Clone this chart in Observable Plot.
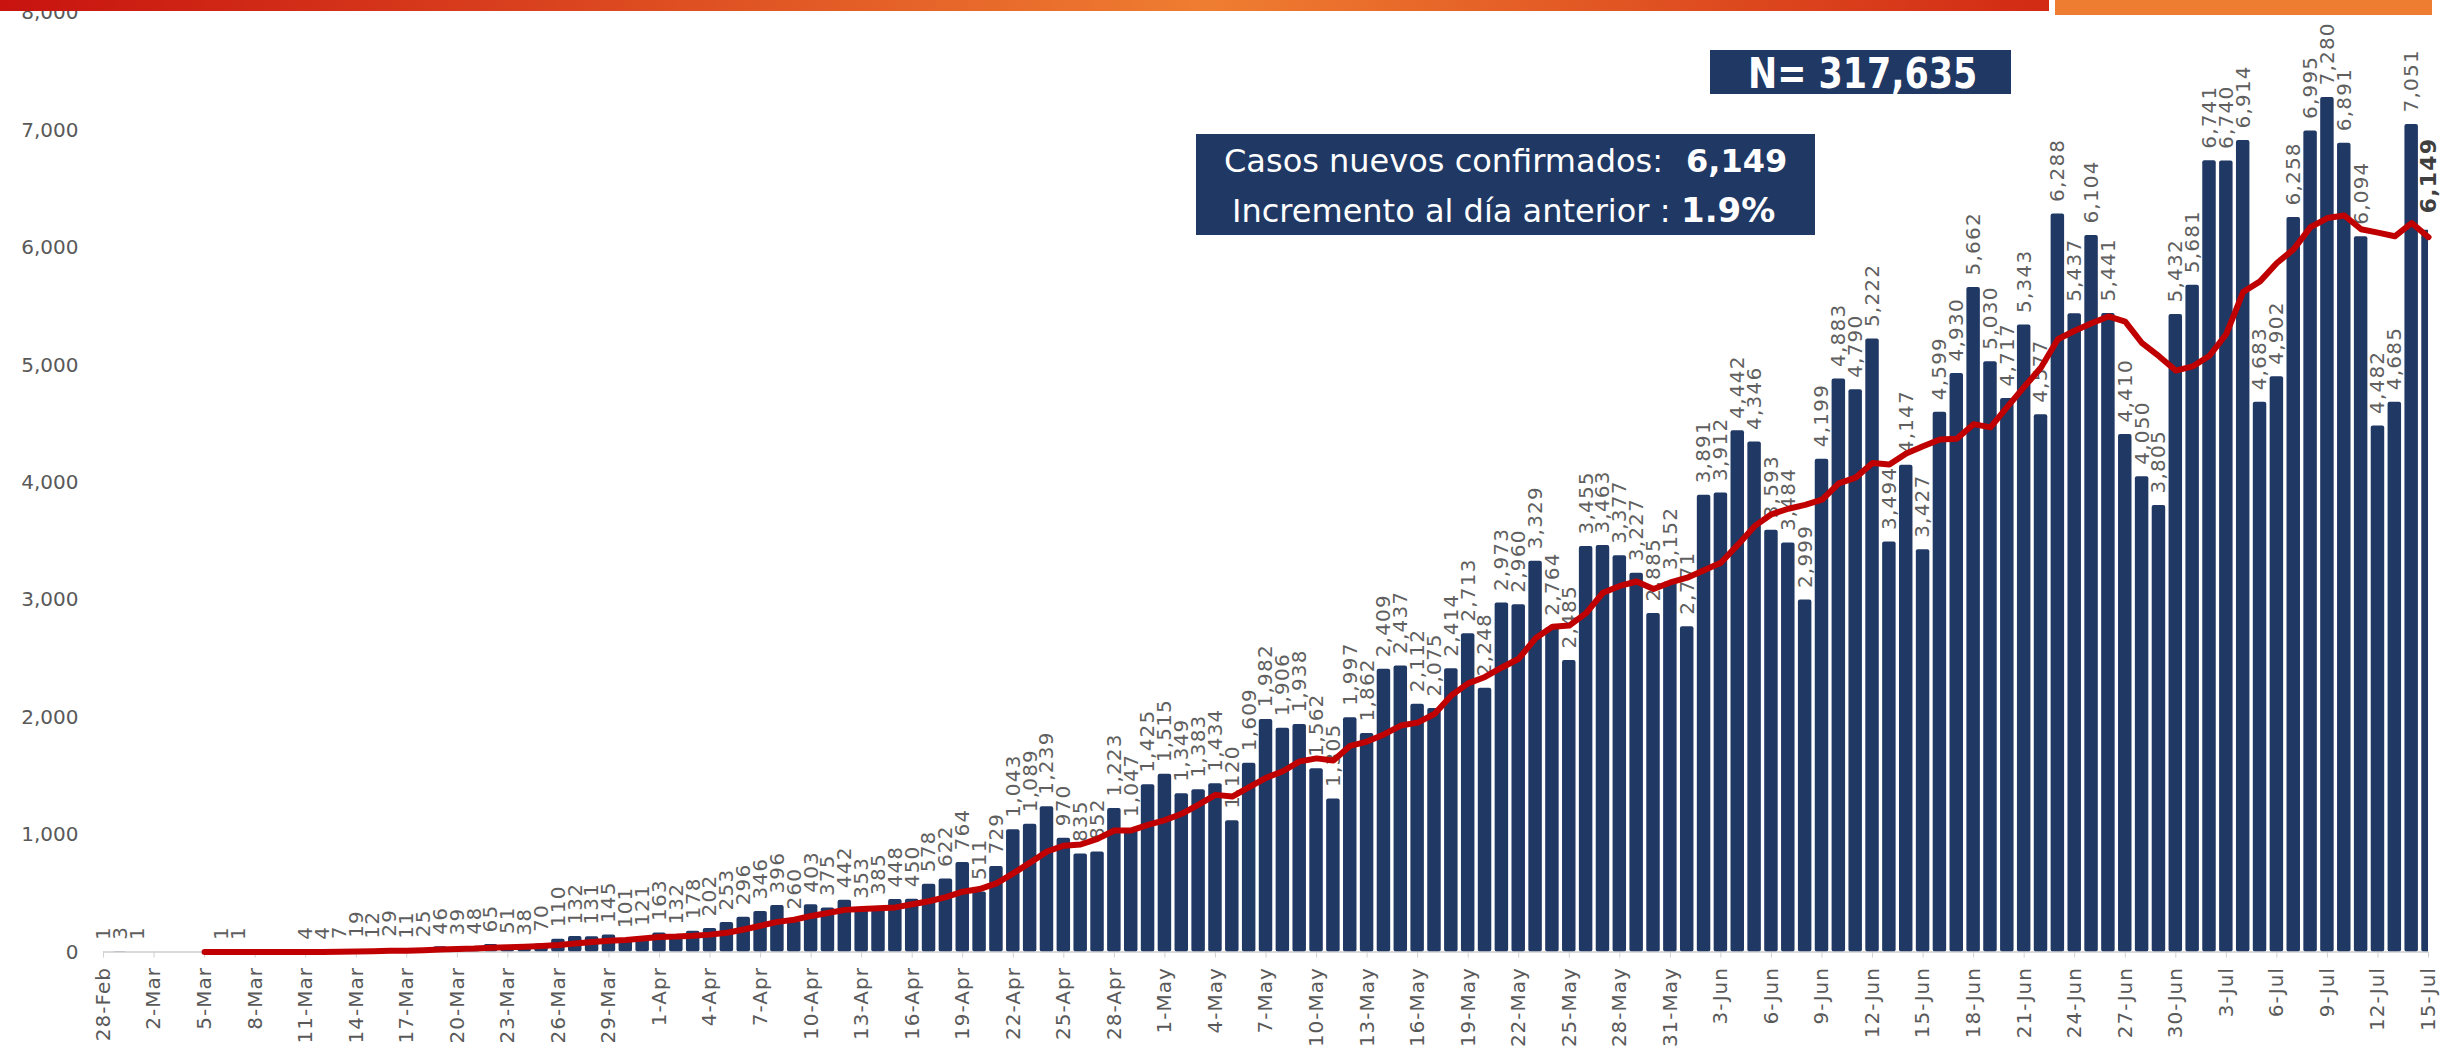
<!DOCTYPE html>
<html>
<head>
<meta charset="utf-8">
<script src="https://cdn.jsdelivr.net/npm/d3@7"></script>
<script src="https://cdn.jsdelivr.net/npm/@observablehq/plot@0.6"></script>
<style>
html,body{margin:0;padding:0;background:#fff;}
#wrap{position:relative;width:2458px;height:1055px;overflow:hidden;font-family:"DejaVu Sans",sans-serif;}
#chart{position:absolute;left:0;top:0;}
.deco{position:absolute;}
.box{position:absolute;background:#203864;}
.t{position:absolute;color:#fff;white-space:nowrap;font-family:"DejaVu Sans",sans-serif;}
.cov g[aria-label="x-axis tick label"]{letter-spacing:1px;}
.cov g[aria-label="text"]{letter-spacing:1.2px;}
</style>
</head>
<body>
<div id="wrap">
  <div id="chart"></div>
  <div class="deco" style="left:0;top:0;width:2049px;height:11px;background:linear-gradient(90deg,#c8130f 0%,#ef7d31 59%,#d22a14 100%);"></div>
  <div class="deco" style="left:2055px;top:0;width:377px;height:15px;background:#ef7d31;"></div>
  <div class="box" style="left:1710px;top:50px;width:301px;height:44px;"></div>
  <div class="t" id="ntext" style="left:1748px;top:53px;font-size:42px;line-height:42px;font-weight:bold;transform:scaleX(0.83);transform-origin:0 0;">N= 317,635</div>
  <div class="box" style="left:1196px;top:134px;width:619px;height:101px;"></div>
  <div class="t" style="left:1224px;top:145px;font-size:32px;line-height:32px;">Casos nuevos confirmados:</div>
  <div class="t" style="left:1686px;top:145px;font-size:32px;line-height:32px;font-weight:bold;">6,149</div>
  <div class="t" style="left:1232px;top:195px;font-size:32px;line-height:32px;">Incremento al día anterior :</div>
  <div class="t" style="left:1681px;top:193px;font-size:34px;line-height:34px;font-weight:bold;">1.9%</div>
</div>
<script>
// Categories (report dates)
const dates = [
  "28-Feb","29-Feb",
  "1-Mar","2-Mar","3-Mar","4-Mar","5-Mar","6-Mar","7-Mar","8-Mar","9-Mar","10-Mar",
  "11-Mar","12-Mar","13-Mar","14-Mar","15-Mar","16-Mar","17-Mar","18-Mar","19-Mar","20-Mar",
  "21-Mar","22-Mar","23-Mar","24-Mar","25-Mar","26-Mar","27-Mar","28-Mar","29-Mar","30-Mar","31-Mar",
  "1-Apr","2-Apr","3-Apr","4-Apr","5-Apr","6-Apr","7-Apr","8-Apr","9-Apr","10-Apr",
  "11-Apr","12-Apr","13-Apr","14-Apr","15-Apr","16-Apr","17-Apr","18-Apr","19-Apr","20-Apr",
  "21-Apr","22-Apr","23-Apr","24-Apr","25-Apr","26-Apr","27-Apr","28-Apr","29-Apr","30-Apr",
  "1-May","2-May","3-May","4-May","5-May","6-May","7-May","8-May","9-May","10-May",
  "11-May","12-May","13-May","14-May","15-May","16-May","17-May","18-May","19-May","20-May",
  "21-May","22-May","23-May","24-May","25-May","26-May","27-May","28-May","29-May","30-May","31-May",
  "1-Jun","2-Jun","3-Jun","4-Jun","5-Jun","6-Jun","7-Jun","8-Jun","9-Jun","10-Jun",
  "11-Jun","12-Jun","13-Jun","14-Jun","15-Jun","16-Jun","17-Jun","18-Jun","19-Jun","20-Jun",
  "21-Jun","22-Jun","23-Jun","24-Jun","25-Jun","26-Jun","27-Jun","28-Jun","29-Jun","30-Jun",
  "1-Jul","2-Jul","3-Jul","4-Jul","5-Jul","6-Jul","7-Jul","8-Jul","9-Jul","10-Jul",
  "11-Jul","12-Jul","13-Jul","14-Jul","15-Jul"
];

// Daily new confirmed cases
const cases = [
  1,3,1,0,0,0,0,1,1,0,0,0,
  4,4,7,19,12,29,11,25,46,39,48,
  65,51,38,70,110,132,131,145,101,121,
  163,132,178,202,253,296,346,396,260,403,375,442,
  353,385,448,450,578,622,764,511,729,1043,1089,1239,970,835,852,1223,1047,
  1425,1515,1349,1383,1434,1120,1609,1982,1906,1938,1562,1305,1997,1862,2409,2437,2112,2075,2414,2713,2248,2973,2960,3329,2764,2485,3455,3463,3377,3227,2885,3152,2771,
  3891,3912,4442,4346,3593,3484,2999,4199,4883,4790,5222,3494,4147,3427,4599,4930,5662,5030,4717,5343,4577,6288,5437,6104,5441,4410,4050,3805,5432,
  5681,6741,6740,6914,4683,4902,6258,6995,7280,6891,6094,4482,4685,7051,6149
];

// Axis tick labels
const xTickLabels = ["28-Feb","2-Mar","5-Mar","8-Mar","11-Mar","14-Mar","17-Mar","20-Mar","23-Mar","26-Mar","29-Mar",
  "1-Apr","4-Apr","7-Apr","10-Apr","13-Apr","16-Apr","19-Apr","22-Apr","25-Apr","28-Apr",
  "1-May","4-May","7-May","10-May","13-May","16-May","19-May","22-May","25-May","28-May","31-May",
  "3-Jun","6-Jun","9-Jun","12-Jun","15-Jun","18-Jun","21-Jun","24-Jun","27-Jun","30-Jun",
  "3-Jul","6-Jul","9-Jul","12-Jul","15-Jul"];
const yTicks = [0,1000,2000,3000,4000,5000,6000,7000,8000];

const data = dates.map((d, i) => ({date: d, value: cases[i]}));
const lastDate = dates[dates.length - 1];
const fmt = d3.format(",");

const chart = Plot.plot({
  width: 2458,
  height: 1055,
  marginLeft: 103,
  marginRight: 30,
  marginTop: 12.5,
  marginBottom: 103.4,
  className: "cov",
  style: {fontFamily: "DejaVu Sans, sans-serif", fontSize: "20px", color: "#595959", background: "transparent", overflow: "visible"},
  x: {type: "band", domain: dates, range: [96.26, 2434.76], paddingInner: 0.2, paddingOuter: 0, align: 0.5, axis: null, label: null},
  y: {domain: [0, 8000], axis: null, label: null},
  marks: [
    Plot.ruleY([0], {stroke: "#d9d9d9", strokeWidth: 2}),
    Plot.axisX({ticks: xTickLabels, label: null, tickRotate: -90, tickSize: 6, tickPadding: 9, stroke: "#d0d0d0", fill: "#595959", fontSize: 20}),
    Plot.axisY({ticks: yTicks, label: null, tickFormat: d3.format(","), tickSize: 0, tickPadding: 25, fill: "#595959", fontSize: 20}),
    Plot.barY(data, {x: "date", y: "value", fill: "#203864", rx: 2, clip: true}),
    Plot.text(data.filter(d => d.value > 0 && d.date !== lastDate), {
      x: "date", y: "value", text: d => fmt(d.value), rotate: -90, textAnchor: "start",
      dy: -12, fontSize: 20, fill: "#5f5f5f"
    }),
    Plot.lineY(data, Plot.windowY({k: 7, anchor: "end", strict: true, reduce: "mean"}, {
      x: "date", y: "value", stroke: "#c00000", strokeWidth: 6, strokeLinejoin: "round", strokeLinecap: "round"
    })),
    Plot.text(data.filter(d => d.date === lastDate), {
      x: "date", y: "value", text: d => fmt(d.value), rotate: -90, textAnchor: "start",
      dy: -17, fontSize: 22, fontWeight: "bold", fill: "#404040"
    })
  ]
});
document.getElementById("chart").appendChild(chart);
</script>
</body>
</html>
